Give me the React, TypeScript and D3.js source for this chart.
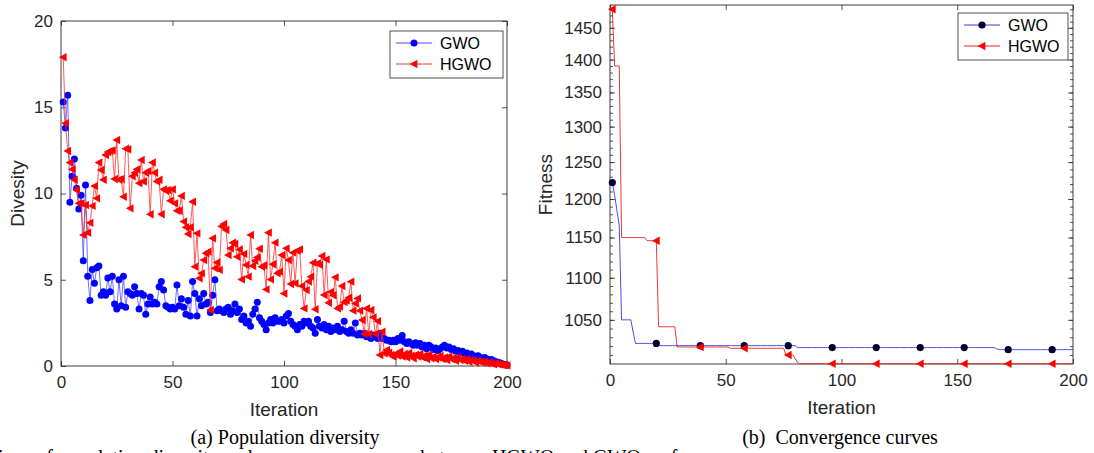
import React, { useEffect, useRef } from "react";
import * as d3 from "d3";

const W = 1094, H = 453;

// (a) population diversity, one value per iteration 1..200
const gwoDiversity = [
  15.3, 13.8, 15.7, 9.5, 11.0, 12.0, 10.3, 9.1, 9.9, 6.1,
  10.5, 5.2, 3.8, 5.6, 4.8, 5.7, 5.8, 4.1, 4.3, 4.1,
  5.1, 4.3, 5.2, 3.6, 3.3, 5.0, 3.5, 5.2, 3.4, 4.3,
  4.2, 4.1, 4.6, 4.2, 3.3, 4.2, 4.1, 3.0, 3.6, 4.0,
  3.6, 3.7, 3.6, 4.6, 4.9, 4.4, 3.5, 3.4, 3.3, 3.4,
  3.3, 4.7, 3.5, 3.9, 3.4, 3.0, 3.8, 2.9, 4.9, 4.2,
  2.9, 3.9, 3.5, 4.2, 3.6, 3.7, 3.1, 4.1, 5.0, 3.2,
  3.3, 3.2, 3.1, 3.3, 3.4, 3.0, 3.2, 3.6, 3.1, 3.3,
  2.7, 2.9, 2.5, 2.6, 2.3, 3.0, 3.3, 3.7, 2.8, 2.6,
  2.4, 2.1, 2.5, 2.7, 2.5, 2.8, 2.6, 2.6, 2.7, 2.5,
  2.9, 3.05, 2.6, 2.4, 2.3, 2.1, 2.4, 2.3, 2.6, 2.5,
  2.6, 2.3, 2.2, 1.9, 2.7, 2.3, 2.2, 2.4, 2.1, 2.3,
  2.0, 2.2, 2.1, 2.3, 2.0, 2.1, 2.6, 2.0, 1.9, 2.1,
  1.9, 2.5, 1.8, 1.9, 1.8, 1.9, 1.7, 1.8, 1.6, 1.8,
  1.7, 1.6, 1.9, 1.6, 1.6, 1.5, 1.5, 1.4, 1.5, 1.4,
  1.6, 1.5, 1.77, 1.4, 1.3, 1.4, 1.3, 1.2, 1.35, 1.2,
  1.3, 1.1, 1.2, 1.0, 1.2, 1.1, 0.95, 1.05, 0.9, 1.0,
  1.1, 1.2, 1.05, 1.1, 0.95, 1.0, 0.85, 0.9, 0.8, 0.85,
  0.7, 0.75, 0.65, 0.7, 0.6, 0.55, 0.6, 0.5, 0.45, 0.5,
  0.4, 0.35, 0.38, 0.3, 0.25, 0.22, 0.18, 0.12, 0.08, 0.05,
];

const hgwoDiversity = [
  17.9, 14.07, 12.46, 11.8, 11.4, 10.8, 10.2, 9.43, 9.43, 7.6,
  9.33, 7.73, 8.3, 9.28, 10.43, 9.72, 11.8, 11.36, 10.8, 12.23,
  12.4, 12.46, 12.5, 10.84, 13.1, 10.8, 10.84, 9.81, 12.6, 12.56,
  9.14, 11.0, 11.2, 11.4, 10.6, 11.94, 10.7, 11.2, 11.3, 8.8,
  11.8, 11.2, 10.7, 10.8, 8.8, 10.24, 10.16, 10.2, 9.58, 10.24,
  9.43, 9.0, 9.0, 9.86, 8.37, 8.04, 7.65, 8.04, 9.52, 5.76,
  7.69, 5.08, 5.37, 6.14, 6.53, 6.63, 3.25, 7.4, 5.66, 6.0,
  5.57, 8.1, 8.23, 7.88, 6.43, 6.82, 7.15, 7.07, 6.33, 6.76,
  5.02, 6.5, 5.86, 5.18, 7.59, 5.8, 6.1, 6.3, 6.8, 5.75,
  5.84, 4.44, 7.73, 5.02, 5.9, 7.15, 5.37, 5.47, 6.43, 4.2,
  6.82, 6.14, 4.75, 6.57, 4.79, 6.68, 6.76, 4.64, 3.34, 4.4,
  4.9, 5.18, 5.99, 3.29, 5.95, 5.86, 6.38, 4.12, 6.18, 3.67,
  4.3, 4.1, 5.14, 3.34, 3.44, 4.64, 3.7, 3.8, 3.96, 4.89,
  3.21, 3.63, 3.92, 3.21, 2.67, 1.86, 3.34, 1.86, 3.25, 2.82,
  1.86, 2.6, 0.64, 1.99, 0.73, 0.93, 0.77, 0.64, 0.54, 0.7,
  0.6, 0.85, 0.55, 0.7, 0.5, 0.75, 0.6, 0.45, 0.65, 0.55,
  0.7, 0.5, 0.6, 0.4, 0.65, 0.45, 0.55, 0.4, 0.5, 0.6,
  0.4, 0.5, 0.35, 0.55, 0.4, 0.45, 0.3, 0.5, 0.35, 0.4,
  0.3, 0.4, 0.25, 0.35, 0.3, 0.2, 0.3, 0.25, 0.2, 0.25,
  0.15, 0.2, 0.15, 0.1, 0.15, 0.1, 0.08, 0.06, 0.05, 0.03,
];

// (b) convergence curves (best fitness per iteration 1..200)
const gwoFitness = [
  1222, 1205, 1185, 1165, 1050, 1050, 1050, 1050, 1050, 1036,
  1023, 1023, 1023, 1023, 1023, 1023, 1023, 1023, 1023, 1023,
  1020.5, 1020.5, 1020.5, 1020.5, 1020.5, 1020.5, 1020.5, 1020.5, 1020.5, 1020.5,
  1020.5, 1020.5, 1020.5, 1020.5, 1020.5, 1020.5, 1020.5, 1020.5, 1020.5, 1020.5,
  1020.5, 1020.5, 1020.5, 1020.5, 1020.5, 1020.5, 1020.5, 1020.5, 1020.5, 1020.5,
  1020.5, 1020.5, 1020.5, 1020.5, 1020.5, 1020.5, 1020.5, 1020.5, 1020.5, 1020.5,
  1020.5, 1020.5, 1020.5, 1020.5, 1020.5, 1020.5, 1020.5, 1020.5, 1020.5, 1020.5,
  1020.5, 1020.5, 1020.5, 1020.5, 1020.5, 1020.5, 1020.5, 1020.5, 1020.5, 1020.5,
  1018.3, 1018.3, 1018.3, 1018.3, 1018.3, 1018.3, 1018.3, 1018.3, 1018.3, 1018.3,
  1018.3, 1018.3, 1018.3, 1018.3, 1018.3, 1018.3, 1018.3, 1018.3, 1018.3, 1018.3,
  1018.3, 1018.3, 1018.3, 1018.3, 1018.3, 1018.3, 1018.3, 1018.3, 1018.3, 1018.3,
  1018.3, 1018.3, 1018.3, 1018.3, 1018.3, 1018.3, 1018.3, 1018.3, 1018.3, 1018.3,
  1018.3, 1018.3, 1018.3, 1018.3, 1018.3, 1018.3, 1018.3, 1018.3, 1018.3, 1018.3,
  1018.3, 1018.3, 1018.3, 1018.3, 1018.3, 1018.3, 1018.3, 1018.3, 1018.3, 1018.3,
  1018.3, 1018.3, 1018.3, 1018.3, 1018.3, 1018.3, 1018.3, 1018.3, 1018.3, 1018.3,
  1018.3, 1018.3, 1018.3, 1018.3, 1018.3, 1018.3, 1018.3, 1018.3, 1018.3, 1018.3,
  1018.3, 1018.3, 1018.3, 1018.3, 1018.3, 1018.3, 1017, 1016, 1016, 1016,
  1016, 1016, 1016, 1016, 1016, 1016, 1016, 1016, 1016, 1016,
  1016, 1016, 1016, 1016, 1016, 1016, 1016, 1016, 1016, 1016,
  1016, 1016, 1016, 1016, 1016, 1016, 1016, 1016, 1016, 1016,
];

const hgwoFitness = [
  1480, 1390, 1390, 1390, 1150, 1150, 1150, 1150, 1150, 1150,
  1150, 1150, 1150, 1150, 1150, 1146, 1146, 1146, 1146, 1146,
  1042, 1042, 1042, 1042, 1042, 1042, 1042, 1042, 1019, 1019,
  1019, 1019, 1019, 1019, 1019, 1019, 1019, 1019, 1019, 1019,
  1019, 1019, 1019, 1019, 1019, 1019, 1019, 1019, 1019, 1019,
  1019, 1017.5, 1017.5, 1017.5, 1017.5, 1017.5, 1017.5, 1017.5, 1017.5, 1017.5,
  1017.5, 1017.5, 1017.5, 1017.5, 1017.5, 1017.5, 1017.5, 1017.5, 1017.5, 1017.5,
  1017.5, 1017.5, 1017.5, 1017.5, 1017.5, 1010, 1010, 1010, 1010, 1006,
  1002, 1000.3, 1000.3, 1000.3, 1000.3, 1000.3, 1000.3, 1000.3, 1000.3, 1000.3,
  1000.3, 1000.3, 1000.3, 1000.3, 1000.3, 1000.3, 1000.3, 1000.3, 1000.3, 1000.3,
  1000.3, 1000.3, 1000.3, 1000.3, 1000.3, 1000.3, 1000.3, 1000.3, 1000.3, 1000.3,
  1000.3, 1000.3, 1000.3, 1000.3, 1000.3, 1000.3, 1000.3, 1000.3, 1000.3, 1000.3,
  1000.3, 1000.3, 1000.3, 1000.3, 1000.3, 1000.3, 1000.3, 1000.3, 1000.3, 1000.3,
  1000.3, 1000.3, 1000.3, 1000.3, 1000.3, 1000.3, 1000.3, 1000.3, 1000.3, 1000.3,
  1000.3, 1000.3, 1000.3, 1000.3, 1000.3, 1000.3, 1000.3, 1000.3, 1000.3, 1000.3,
  1000.3, 1000.3, 1000.3, 1000.3, 1000.3, 1000.3, 1000.3, 1000.3, 1000.3, 1000.3,
  1000.3, 1000.3, 1000.3, 1000.3, 1000.3, 1000.3, 1000.3, 1000.3, 1000.3, 1000.3,
  1000.3, 1000.3, 1000.3, 1000.3, 1000.3, 1000.3, 1000.3, 1000.3, 1000.3, 1000.3,
  1000.3, 1000.3, 1000.3, 1000.3, 1000.3, 1000.3, 1000.3, 1000.3, 1000.3, 1000.3,
  1000.3, 1000.3, 1000.3, 1000.3, 1000.3, 1000.3, 1000.3, 1000.3, 1000.3, 1000.3,
];

const iterTicks = [0, 50, 100, 150, 200];
const diversityTicks = [0, 5, 10, 15, 20];
const fitnessTicks = [1050, 1100, 1150, 1200, 1250, 1300, 1350, 1400, 1450];
const fitnessMinor = d3.range(1010, 1490, 10);
const seriesNames = ["GWO", "HGWO"];

const SANS = "'Liberation Sans', Arial, sans-serif";
const SERIF = "'Liberation Serif', 'Times New Roman', serif";
const AXIS = "#262626";
const tri = "M-4.3,0L3.4,-4.2L3.4,4.2Z"; // left-pointing triangle marker

type Sel = d3.Selection<SVGGElement, unknown, null, undefined>;

function styleAxis(g: Sel) {
  g.select(".domain").remove();
  g.selectAll("line").attr("stroke", AXIS).attr("stroke-width", 0.8);
  g.selectAll("text").attr("fill", AXIS).style("font-family", SANS).style("font-size", "17px");
}

function drawFrame(root: Sel, x: any, y: any, yTicks: number[], yMinor: number[] | null, fmt: (d: any) => string) {
  const [x0, x1] = x.range();
  const [yb, yt] = y.range();

  root.append("g").attr("transform", `translate(0,${yb})`)
    .call(d3.axisBottom(x).tickValues(iterTicks).tickSizeInner(-5).tickSizeOuter(0).tickPadding(10))
    .call(styleAxis);
  root.append("g").attr("transform", `translate(0,${yt})`)
    .call(d3.axisTop(x).tickValues(iterTicks).tickSizeInner(-5).tickSizeOuter(0).tickFormat(() => ""))
    .call(styleAxis);
  root.append("g").attr("transform", `translate(${x0},0)`)
    .call(d3.axisLeft(y).tickValues(yTicks).tickSizeInner(-5).tickSizeOuter(0).tickPadding(8).tickFormat(fmt))
    .call(styleAxis);
  root.append("g").attr("transform", `translate(${x1},0)`)
    .call(d3.axisRight(y).tickValues(yTicks).tickSizeInner(-5).tickSizeOuter(0).tickFormat(() => ""))
    .call(styleAxis);

  if (yMinor) {
    root.append("g").attr("transform", `translate(${x0},0)`)
      .call(d3.axisLeft(y).tickValues(yMinor).tickSizeInner(-3).tickSizeOuter(0).tickFormat(() => ""))
      .call(styleAxis);
    root.append("g").attr("transform", `translate(${x1},0)`)
      .call(d3.axisRight(y).tickValues(yMinor).tickSizeInner(-3).tickSizeOuter(0).tickFormat(() => ""))
      .call(styleAxis);
  }

  root.append("rect")
    .attr("x", x0).attr("y", yt).attr("width", x1 - x0).attr("height", yb - yt)
    .attr("fill", "none").attr("stroke", AXIS).attr("stroke-width", 0.9);
}

function drawLegend(root: Sel, lx: number, ly: number, w: number, h: number, styles: any[]) {
  const g = root.append("g");
  g.append("rect").attr("x", lx).attr("y", ly).attr("width", w).attr("height", h)
    .attr("fill", "#fff").attr("stroke", AXIS).attr("stroke-width", 0.8);
  seriesNames.forEach((name, i) => {
    const cy = ly + 12 + i * 21;
    const s = styles[i];
    g.append("line").attr("x1", lx + 6).attr("x2", lx + 42).attr("y1", cy).attr("y2", cy)
      .attr("stroke", s.line).attr("stroke-width", 1);
    if (s.shape === "circle") {
      g.append("circle").attr("cx", lx + 24).attr("cy", cy).attr("r", s.r).attr("fill", s.fill);
    } else {
      g.append("path").attr("d", tri).attr("transform", `translate(${lx + 24},${cy})`).attr("fill", s.fill);
    }
    g.append("text").attr("x", lx + 50).attr("y", cy + 5.5).text(name)
      .attr("fill", "#000").style("font-family", SANS).style("font-size", "16px");
  });
}

function drawDiversity(svg: any) {
  const root: Sel = svg.append("g");
  const x = d3.scaleLinear().domain([0, 200]).range([61, 507]);
  const y = d3.scaleLinear().domain([0, 20]).range([366, 21]);
  drawFrame(root, x, y, diversityTicks, null, (d) => String(d));

  const line = d3.line<number>().x((d, i) => x(i + 1)).y((d) => y(d));

  root.append("path").datum(gwoDiversity).attr("d", line)
    .attr("fill", "none").attr("stroke", "#4a4aff").attr("stroke-width", 0.8);
  root.append("g").selectAll("circle").data(gwoDiversity).enter().append("circle")
    .attr("cx", (d, i) => x(i + 1)).attr("cy", (d) => y(d)).attr("r", 3.5).attr("fill", "#0000ff");

  root.append("path").datum(hgwoDiversity).attr("d", line)
    .attr("fill", "none").attr("stroke", "#ff3030").attr("stroke-width", 0.8);
  root.append("g").selectAll("path").data(hgwoDiversity).enter().append("path")
    .attr("d", tri).attr("transform", (d, i) => `translate(${x(i + 1)},${y(d)})`).attr("fill", "#ff0000");

  drawLegend(root, 390, 31, 113, 47, [
    { line: "#4a4aff", shape: "circle", fill: "#0000ff", r: 3.5 },
    { line: "#ff3030", shape: "tri", fill: "#ff0000" },
  ]);

  root.append("text").attr("transform", `translate(24,${(21 + 366) / 2}) rotate(-90)`)
    .attr("text-anchor", "middle").text("Divesity")
    .attr("fill", AXIS).style("font-family", SANS).style("font-size", "19px");
  root.append("text").attr("x", (61 + 507) / 2).attr("y", 416).attr("text-anchor", "middle").text("Iteration")
    .attr("fill", AXIS).style("font-family", SANS).style("font-size", "19px");
}

function drawConvergence(svg: any) {
  const root: Sel = svg.append("g");
  const x = d3.scaleLinear().domain([0, 200]).range([610, 1073]);
  const y = d3.scaleLog().domain([1000, 1487]).range([364, 5]);
  drawFrame(root, x, y, fitnessTicks, fitnessMinor, (d) => String(d));

  const line = d3.line<number>().x((d, i) => x(i + 1)).y((d) => y(d));
  const markerIdx = d3.range(0, 200, 19);

  root.append("path").datum(gwoFitness).attr("d", line)
    .attr("fill", "none").attr("stroke", "#3a3ae0").attr("stroke-width", 0.9);
  root.append("path").datum(hgwoFitness).attr("d", line)
    .attr("fill", "none").attr("stroke", "#e02424").attr("stroke-width", 0.9);

  root.append("g").selectAll("circle").data(markerIdx).enter().append("circle")
    .attr("cx", (i) => x(i + 1)).attr("cy", (i) => y(gwoFitness[i])).attr("r", 3.6).attr("fill", "#00002e");
  root.append("g").selectAll("path").data(markerIdx).enter().append("path")
    .attr("d", tri).attr("transform", (i) => `translate(${x(i + 1)},${y(hgwoFitness[i])})`).attr("fill", "#ff0000");

  drawLegend(root, 958, 13, 110, 47, [
    { line: "#3a3ae0", shape: "circle", fill: "#00002e", r: 3.6 },
    { line: "#e02424", shape: "tri", fill: "#ff0000" },
  ]);

  root.append("text").attr("transform", `translate(552,${(5 + 364) / 2}) rotate(-90)`)
    .attr("text-anchor", "middle").text("Fitness")
    .attr("fill", AXIS).style("font-family", SANS).style("font-size", "19px");
  root.append("text").attr("x", (610 + 1073) / 2).attr("y", 414).attr("text-anchor", "middle").text("Iteration")
    .attr("fill", AXIS).style("font-family", SANS).style("font-size", "19px");
}

function drawCaptions(svg: any) {
  const caps = [
    { x: 285, t: "(a) Population diversity" },
    { x: 840, t: "(b)\u00a0 Convergence curves" },
  ];
  caps.forEach((c) => {
    svg.append("text").attr("x", c.x).attr("y", 444).attr("text-anchor", "middle").text(c.t)
      .attr("fill", "#000").style("font-family", SERIF).style("font-size", "20px");
  });
  svg.append("text").attr("x", -2).attr("y", 464)
    .text("ison of population diversity and convergence curves between HGWO and GWO on f")
    .attr("fill", "#000").style("font-family", SERIF).style("font-size", "20px");
}

export default function App() {
  const ref = useRef<SVGSVGElement>(null);

  useEffect(() => {
    const svg = d3.select(ref.current);
    svg.selectAll("*").remove();
    drawDiversity(svg);
    drawConvergence(svg);
    drawCaptions(svg);
  }, []);

  return (
    <svg ref={ref} width={W} height={H}
      style={{ position: "absolute", left: 0, top: 0, background: "#fff" }} />
  );
}
